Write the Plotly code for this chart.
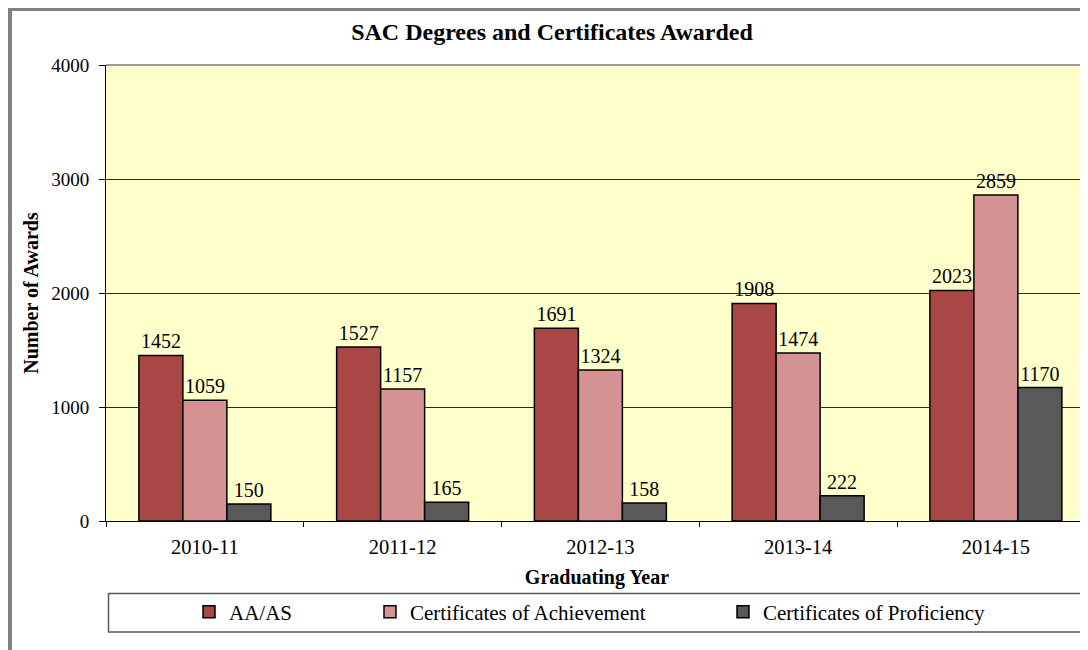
import plotly.graph_objects as go

years = ["2010-11", "2011-12", "2012-13", "2013-14", "2014-15"]
aa_as = [1452, 1527, 1691, 1908, 2023]
cert_achievement = [1059, 1157, 1324, 1474, 2859]
cert_proficiency = [150, 165, 158, 222, 1170]

series_names = ["AA/AS", "Certificates of Achievement", "Certificates of Proficiency"]
series_colors = ["#A94646", "#D49392", "#595959"]
y_ticks = [0, 1000, 2000, 3000, 4000]

# The page body has an 8px margin, so the figure is drawn 8px smaller and
# all positions below are in figure pixels (screen pixels minus 8).
W, H = 1080, 642
L, R, T, B = 98, 0, 57, 129
PW, PH = W - L - R, H - T - B
FONT = "Liberation Serif, Times New Roman, serif"


def px_x(p):
    return (p - L) / PW


def px_y(p):
    return (H - B - p) / PH


fig = go.Figure()
for i, (name, vals, col) in enumerate(zip(series_names, [aa_as, cert_achievement, cert_proficiency], series_colors)):
    fig.add_trace(go.Bar(
        x=years, y=vals, name=name,
        marker=dict(color=col, line=dict(color="#000000", width=1.5)),
        text=[str(v) for v in vals], textposition="outside",
        textfont=dict(family=FONT, size=20, color="#000000"),
        cliponaxis=False, showlegend=True,
        legend="legend" if i == 0 else f"legend{i+1}",
    ))

legend_common = dict(
    orientation="h", yanchor="middle", xanchor="left",
    font=dict(family=FONT, size=21, color="#000000"),
    bgcolor="rgba(0,0,0,0)", borderwidth=0, itemwidth=30, visible=True,
)

shapes = [
    # outer gray frame (left and top)
    dict(type="rect", xref="paper", yref="paper", x0=px_x(0), x1=px_x(4), y0=px_y(H + 5), y1=px_y(0),
         fillcolor="#808080", line=dict(width=0), layer="above"),
    dict(type="rect", xref="paper", yref="paper", x0=px_x(0), x1=px_x(W + 5), y0=px_y(3), y1=px_y(0),
         fillcolor="#808080", line=dict(width=0), layer="above"),
    # top plot border
    dict(type="line", xref="paper", yref="paper", x0=0, x1=1, y0=1, y1=1,
         line=dict(color="#9a9a9a", width=2), layer="above"),
    # legend box
    dict(type="rect", xref="paper", yref="paper", x0=px_x(100.5), x1=px_x(1073.5), y0=px_y(624), y1=px_y(585.5),
         fillcolor="rgba(0,0,0,0)", line=dict(color="#5a5a5a", width=1.5), layer="above"),
]

fig.update_layout(
    width=W, height=H,
    margin=dict(l=L, r=R, t=T, b=B, autoexpand=False),
    paper_bgcolor="#FFFFFF", plot_bgcolor="#FFFFCC",
    font=dict(family=FONT, size=20, color="#000000"),
    showlegend=True,
    title=dict(text="<b>SAC Degrees and Certificates Awarded</b>", x=0.5 + 4 / W, xref="container", xanchor="center",
               y=1 - 24 / H, yanchor="middle", font=dict(family=FONT, size=24, color="#000000")),
    barmode="group", bargap=0.3325, bargroupgap=0,
    xaxis=dict(
        type="category", range=[-0.5, -0.5 + PW / 197.75],
        showline=True, linecolor="#000000", linewidth=1,
        ticks="outside", tickson="boundaries", ticklen=5, tickcolor="#000000",
        ticklabelstandoff=7,
        tickfont=dict(family=FONT, size=20.5, color="#000000"),
        showgrid=False, automargin=False,
        title=dict(text="<b>Graduating Year</b>", standoff=13, font=dict(family=FONT, size=20, color="#000000")),
    ),
    yaxis=dict(
        range=[0, 4000], tickvals=y_ticks, ticktext=[str(v) for v in y_ticks],
        showline=True, linecolor="#000000", linewidth=1,
        ticks="outside", ticklen=6, tickcolor="#000000",
        ticklabelstandoff=6,
        tickfont=dict(family=FONT, size=19, color="#000000"),
        showgrid=True, gridcolor="#262626", gridwidth=1, zeroline=False,
        automargin=False,
        title=dict(text="<b>Number of Awards</b>", standoff=7, font=dict(family=FONT, size=20, color="#000000")),
    ),
    legend=dict(x=px_x(181), y=px_y(604), **legend_common),
    legend2=dict(x=px_x(362), y=px_y(604), **legend_common),
    legend3=dict(x=px_x(715), y=px_y(604), **legend_common),
    shapes=shapes,
)

fig.write_html("out.html")
